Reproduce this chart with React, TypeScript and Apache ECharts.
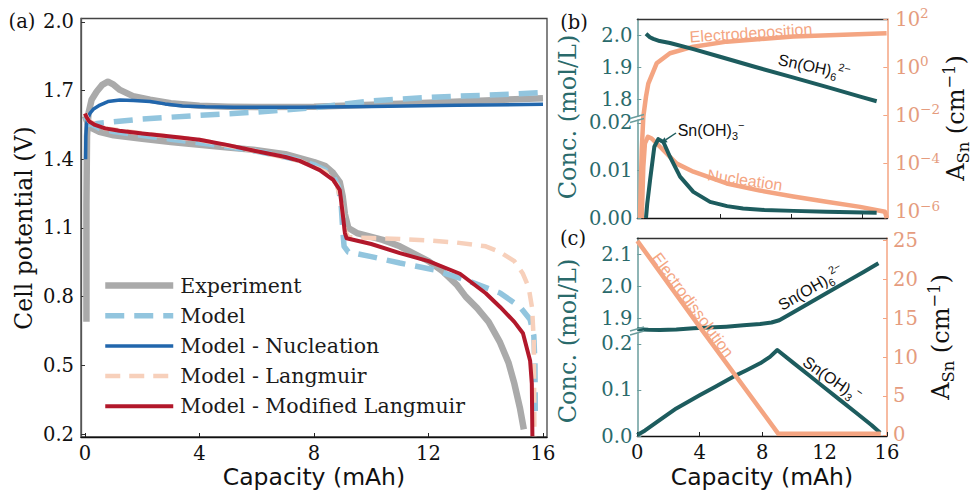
import React, { useEffect, useRef } from "react";
import * as echarts from "echarts";

// ---------------- tick values ----------------
const aXTicks = [0, 4, 8, 12, 16];
const aYTicks = [0.2, 0.5, 0.8, 1.1, 1.4, 1.7, 2.0];
const bXTicks = [4, 8, 12];
const bUpperTicks = [1.8, 1.9, 2.0];
const bLowerTicks = [0, 0.01, 0.02];
const bRightExps = [-6, -4, -2, 0, 2];
const cXTicks = [0, 4, 8, 12, 16];
const cUpperTicks = [1.9, 2.0, 2.1];
const cLowerTicks = [0, 0.1, 0.2];
const cRightTicks = [0, 5, 10, 15, 20, 25];

// ---------------- panel (a) : cell potential (V) vs capacity (mAh) ----------------
const expCharge = [
  [0.05, 0.69], [0.05, 1.2], [0.07, 1.5], [0.12, 1.6], [0.23, 1.66], [0.41, 1.696], [0.6, 1.725],
  [0.8, 1.739], [1.0, 1.726], [1.22, 1.703], [1.68, 1.676], [2.27, 1.66], [3, 1.645], [4, 1.634],
  [5, 1.63], [6, 1.628], [8, 1.63], [10, 1.638], [12, 1.647], [14, 1.657], [16, 1.667],
];
const expDischarge = [
  [0, 1.59], [0.1, 1.555], [0.25, 1.535], [0.5, 1.52], [1, 1.505], [2, 1.49], [3, 1.476], [4, 1.463],
  [5, 1.452], [6, 1.44], [7, 1.422], [7.5, 1.405], [8, 1.388], [8.4, 1.37], [8.67, 1.34], [8.9, 1.3],
  [9.0, 1.24], [9.08, 1.16], [9.2, 1.1], [9.5, 1.078], [10.4, 1.048], [11, 1.02], [12, 0.955],
  [12.5, 0.91], [13, 0.85], [13.3, 0.8], [13.7, 0.75], [14.1, 0.69], [14.5, 0.6], [14.8, 0.51],
  [15.0, 0.42], [15.2, 0.31], [15.33, 0.22],
];
const modelCharge = [
  [0, 1.55], [0.5, 1.558], [1.2, 1.566], [2, 1.576], [4, 1.592], [6, 1.606], [8, 1.625], [9, 1.64],
  [10, 1.655], [11, 1.663], [12, 1.67], [13, 1.676], [14, 1.68], [15, 1.685], [16, 1.692],
];
const modelDischarge = [
  [0, 1.585], [0.2, 1.555], [0.5, 1.535], [1, 1.521], [2.27, 1.5], [3, 1.488], [4, 1.472],
  [5, 1.455], [6, 1.435], [7, 1.41], [7.5, 1.395], [8, 1.376], [8.4, 1.352], [8.7, 1.32],
  [8.85, 1.28], [8.95, 1.2], [9.0, 1.1], [9.05, 1.02], [9.2, 0.995], [10, 0.975], [11, 0.947],
  [12.2, 0.917], [13.3, 0.873], [14.5, 0.816], [15.2, 0.755], [15.55, 0.7], [15.68, 0.63],
  [15.72, 0.5], [15.73, 0.3],
];
const nucleationCharge = [
  [0.02, 1.4], [0.03, 1.5], [0.05, 1.55], [0.1, 1.58], [0.17, 1.6], [0.3, 1.62], [0.52, 1.637],
  [0.8, 1.652], [1.22, 1.659], [1.7, 1.657], [2.27, 1.652], [2.8, 1.642], [3.4, 1.633], [4.2, 1.629],
  [5.2, 1.627], [7.5, 1.627], [10, 1.631], [13, 1.636], [16, 1.64],
];
const langmuirDischarge = [
  [0, 1.6], [0.15, 1.565], [0.7, 1.535], [2, 1.513], [4, 1.485], [6, 1.435], [7.5, 1.393],
  [8.4, 1.345], [8.8, 1.29], [8.97, 1.2], [9.08, 1.09], [9.2, 1.06], [10, 1.056], [11, 1.052],
  [12, 1.046], [13, 1.036], [14, 1.02], [14.5, 0.995], [15, 0.955], [15.3, 0.9], [15.5, 0.84],
  [15.62, 0.75], [15.68, 0.6], [15.69, 0.4], [15.7, 0.19],
];
const modLangmuirDischarge = [
  [0, 1.6], [0.05, 1.585], [0.15, 1.565], [0.35, 1.55], [0.7, 1.535], [1.2, 1.525], [2, 1.513],
  [3, 1.5], [4, 1.485], [5, 1.462], [6, 1.435], [7, 1.41], [7.5, 1.393], [8.2, 1.353], [8.67, 1.31],
  [8.9, 1.266], [9.0, 1.165], [9.08, 1.078], [9.14, 1.055], [10, 1.03], [11, 0.99], [12, 0.955],
  [13.1, 0.9], [14, 0.815], [14.5, 0.755], [15, 0.69], [15.3, 0.64], [15.55, 0.52], [15.61, 0.42],
  [15.62, 0.3], [15.63, 0.19],
];

// ---------------- panel (b) : charging ----------------
const bSn6 = [
  [-0.17, 2.006], [0.05, 1.995], [0.24, 1.99], [0.6, 1.983], [1.18, 1.977], [2.5, 1.958],
  [4, 1.934], [6, 1.902], [8, 1.871], [10, 1.84], [12, 1.808], [12.83, 1.795],
];
const bSn3 = [
  [-0.17, 0], [-0.1, 0.003], [0.06, 0.008], [0.3, 0.015], [0.52, 0.0166], [0.81, 0.016],
  [1.18, 0.0129], [1.75, 0.0087], [2.5, 0.0055], [3.44, 0.0034], [4.4, 0.0025], [5.3, 0.002],
  [6.5, 0.0017], [8.13, 0.0015], [10, 0.0013], [12.83, 0.0011],
];
const bElectrodeposition = [
  [-0.51, 5.5e-7], [-0.41, 3.6e-4], [-0.32, 8.9e-3], [-0.17, 0.06], [-0.04, 0.21], [0.43, 1.45],
  [1.18, 3.8], [2.5, 7.1], [4.38, 11.5], [8.13, 18.6], [13.39, 25.7],
];
const bNucleation = [
  [-0.41, 5.5e-7], [-0.32, 7.4e-5], [-0.23, 6.9e-4], [-0.06, 1.3e-3], [0.15, 1.1e-3], [0.62, 5.0e-4],
  [1.56, 1.0e-4], [2.5, 4.6e-5], [4.38, 1.5e-5], [6.25, 7.6e-6], [8.13, 4.3e-6], [10, 2.6e-6],
  [11.9, 1.6e-6], [13.3, 1.0e-6], [13.4, 5.5e-7],
];

// ---------------- panel (c) : discharging ----------------
const cSn6 = [
  [0, 1.865], [0.7, 1.863], [1.45, 1.8625], [2.5, 1.864], [3.6, 1.868], [4.6, 1.87], [5.7, 1.873],
  [6.8, 1.877], [7.87, 1.881], [8.6, 1.886], [9.1, 1.893], [10, 1.918], [11, 1.946], [12.14, 1.978],
  [13.5, 2.016], [14.5, 2.044], [15.45, 2.071],
];
const cSn3 = [
  [0, 0.002], [0.5, 0.012], [1.45, 0.035], [2.5, 0.06], [4.02, 0.089], [5, 0.107], [6.15, 0.129],
  [7, 0.143], [7.87, 0.158], [8.5, 0.172], [8.97, 0.187], [10, 0.159], [11, 0.132], [12, 0.105],
  [13, 0.078], [14, 0.051], [15, 0.024], [15.56, 0.007],
];
const cElectrodissolution = [[0, 24.9], [4.02, 13.8], [9.04, 0.15], [15.6, 0.15]];

// ---------------- styling ----------------
const SERIF = "DejaVu Serif";
const SANS = "DejaVu Sans";
const ARIAL = "Liberation Sans";
const TEAL = "#1d5c5e";
const TEAL_TXT = "#2a6a6b";
const TEAL_AX = "#6a9c9c";
const SALMON = "#f4a582";
const SALMON_TXT = "#e59c7e";
const GRAY = "#aaaaaa";
const LBLUE = "#92c5de";
const DBLUE = "#2166ac";
const PEACH = "#f7d0bb";
const RED = "#b2182b";

const bXmin = -0.66, bXmax = 13.43;

function line(name: string, data: any[], xi: number, yi: number, color: string, width: number, type: any = "solid", z = 2) {
  return {
    type: "line", name, data, xAxisIndex: xi, yAxisIndex: yi, symbol: "none", showSymbol: false,
    smooth: false, clip: false, silent: true, z,
    lineStyle: { color, width, type, cap: "butt", join: "round" },
    itemStyle: { color },
    emphasis: { disabled: true },
  };
}

function valAxis(extra: any) {
  const al = extra.axisLine || {};
  return { type: "value", splitLine: { show: false }, ...extra, axisLine: { ...al, onZero: false } };
}

function buildOption(): any {
  const tickLbl = (vals: number[], fmt: (v: number) => string, color: string, margin = 6) => ({
    customValues: vals, formatter: fmt, color, fontFamily: SERIF, fontSize: 19.5, margin,
  });
  const ticks = (vals: number[], color: string) => ({
    show: true, customValues: vals, inside: true, length: 4, lineStyle: { color, width: 1 },
  });
  const hidden = (gi: number, min: number, max: number) =>
    valAxis({ gridIndex: gi, min, max, show: false });

  const subRich = (color: string, size: number, family: string) => ({
    m: { fontSize: size, fontFamily: family, color, lineHeight: size + 6 },
    s: { fontSize: size * 0.68, fontFamily: family, color, lineHeight: size * 0.68, verticalAlign: "bottom" },
    p: { fontSize: size * 0.68, fontFamily: family, color, lineHeight: size * 0.68, verticalAlign: "top" },
  });

  const txt = (x: number, y: number, text: string, opts: any = {}) => ({
    type: "text", x, y, rotation: opts.rotation || 0, silent: true, z: 100,
    style: {
      text, fontSize: opts.size || 19.5, fontFamily: opts.family || SERIF, fill: opts.color || "#111",
      align: "center", verticalAlign: "middle", rich: opts.rich,
    },
  });
  const deg = (d: number) => (d * Math.PI) / 180;

  return {
    animation: false,
    backgroundColor: "#ffffff",
    grid: [
      { left: 81, top: 18.5, width: 466, height: 418.5, show: true, borderColor: "#444", borderWidth: 1.3, backgroundColor: "transparent" },
      { left: 637.3, top: 19, width: 250, height: 199 },
      { left: 637.3, top: 19, width: 250, height: 97 },
      { left: 637.3, top: 120, width: 250, height: 98 },
      { left: 637.3, top: 238, width: 249.7, height: 198 },
      { left: 637.3, top: 238, width: 249.7, height: 92 },
      { left: 637.3, top: 333, width: 249.7, height: 103 },
    ],
    xAxis: [
      valAxis({
        gridIndex: 0, min: -0.14, max: 16.14,
        axisLine: { lineStyle: { color: "#111", width: 1.3 } },
        axisTick: ticks(aXTicks, "#222"),
        axisLabel: tickLbl(aXTicks, (v) => String(v), "#111"),
      }),
      valAxis({
        gridIndex: 1, min: bXmin, max: bXmax,
        axisLine: { lineStyle: { color: "#111", width: 1.3 } },
        axisTick: ticks(bXTicks, "#222"),
        axisLabel: { show: false },
      }),
      valAxis({
        gridIndex: 1, position: "top", min: bXmin, max: bXmax,
        axisLine: { lineStyle: { color: "#333", width: 1.3 } },
        axisTick: { show: false }, axisLabel: { show: false },
      }),
      hidden(2, bXmin, bXmax),
      hidden(3, bXmin, bXmax),
      valAxis({
        gridIndex: 4, min: 0, max: 16,
        axisLine: { lineStyle: { color: "#111", width: 1.3 } },
        axisTick: ticks(cXTicks, "#222"),
        axisLabel: tickLbl(cXTicks, (v) => String(v), "#111"),
      }),
      valAxis({
        gridIndex: 4, position: "top", min: 0, max: 16,
        axisLine: { lineStyle: { color: "#333", width: 1.3 } },
        axisTick: { show: false }, axisLabel: { show: false },
      }),
      hidden(5, 0, 16),
      hidden(6, 0, 16),
    ],
    yAxis: [
      valAxis({
        gridIndex: 0, min: 0.187, max: 2.015,
        axisLine: { show: true, lineStyle: { color: "#555", width: 1.3 } },
        axisTick: ticks(aYTicks, "#333"),
        axisLabel: tickLbl(aYTicks, (v) => v.toFixed(1), "#111", 7),
      }),
      valAxis({
        gridIndex: 1, position: "right", min: -6.257, max: 2,
        axisLine: { show: true, lineStyle: { color: SALMON, width: 1.5 } },
        axisTick: ticks(bRightExps, SALMON),
        axisLabel: {
          customValues: bRightExps, margin: 8,
          formatter: (v: number) => `{b|10}{e|${v < 0 ? "\u2212" + Math.abs(v) : v}}`,
          rich: {
            b: { fontFamily: SERIF, fontSize: 19.5, color: SALMON_TXT, lineHeight: 26 },
            e: { fontFamily: SERIF, fontSize: 13.5, color: SALMON_TXT, lineHeight: 14, verticalAlign: "top" },
          },
        },
      }),
      valAxis({
        gridIndex: 2, min: 1.749, max: 2.052,
        axisLine: { show: true, lineStyle: { color: TEAL_AX, width: 1.5 } },
        axisTick: ticks(bUpperTicks, TEAL_AX),
        axisLabel: tickLbl(bUpperTicks, (v) => v.toFixed(1), TEAL_TXT, 5),
      }),
      valAxis({
        gridIndex: 3, min: 0, max: 0.02063,
        axisLine: { show: true, lineStyle: { color: TEAL_AX, width: 1.5 } },
        axisTick: ticks(bLowerTicks, TEAL_AX),
        axisLabel: tickLbl(bLowerTicks, (v) => v.toFixed(2), TEAL_TXT, 5),
      }),
      valAxis({
        gridIndex: 4, position: "right", min: -0.13, max: 25.26,
        axisLine: { show: true, lineStyle: { color: SALMON, width: 1.5 } },
        axisTick: ticks(cRightTicks, SALMON),
        axisLabel: tickLbl(cRightTicks, (v) => String(v), SALMON_TXT, 6),
      }),
      valAxis({
        gridIndex: 5, min: 1.8625, max: 2.15,
        axisLine: { show: true, lineStyle: { color: TEAL_AX, width: 1.5 } },
        axisTick: ticks(cUpperTicks, TEAL_AX),
        axisLabel: tickLbl(cUpperTicks, (v) => v.toFixed(1), TEAL_TXT, 5),
      }),
      valAxis({
        gridIndex: 6, min: 0, max: 0.2239,
        axisLine: { show: true, lineStyle: { color: TEAL_AX, width: 1.5 } },
        axisTick: ticks(cLowerTicks, TEAL_AX),
        axisLabel: tickLbl(cLowerTicks, (v) => v.toFixed(1), TEAL_TXT, 5),
      }),
    ],
    legend: {
      orient: "vertical", left: 97, top: 270, itemWidth: 68, itemHeight: 20, itemGap: 9.2,
      selectedMode: false,
      lineStyle: { width: "inherit" },
      itemStyle: { opacity: 0, borderWidth: 0 },
      textStyle: { fontFamily: SERIF, fontSize: 20.5, color: "#1a1a1a", lineHeight: 20, padding: [0, 0, 0, 2] },
      data: ["Experiment", "Model", "Model - Nucleation", "Model - Langmuir", "Model - Modified Langmuir"],
    },
    series: [
      line("Experiment", expCharge, 0, 0, GRAY, 6.5, "solid", 2),
      line("Experiment", expDischarge, 0, 0, GRAY, 6.5, "solid", 2),
      line("Model", modelCharge, 0, 0, LBLUE, 5.5, [19, 10], 3),
      line("Model", modelDischarge, 0, 0, LBLUE, 5.5, [19, 10], 3),
      line("Model - Nucleation", nucleationCharge, 0, 0, DBLUE, 3.5, "solid", 4),
      line("Model - Langmuir", langmuirDischarge, 0, 0, PEACH, 4.5, [15, 9], 5),
      line("Model - Modified Langmuir", modLangmuirDischarge, 0, 0, RED, 4, "solid", 6),

      line("Electrodeposition", bElectrodeposition.map(([x, a]) => [x, Math.log10(a)]), 1, 1, SALMON, 4.5, "solid", 3),
      line("Nucleation", bNucleation.map(([x, a]) => [x, Math.log10(a)]), 1, 1, SALMON, 4.5, "solid", 3),
      line("Sn(OH)6", bSn6, 3, 2, TEAL, 4, "solid", 4),
      line("Sn(OH)3", bSn3, 4, 3, TEAL, 4, "solid", 4),

      line("Sn(OH)6 c", cSn6, 7, 5, TEAL, 4, "solid", 3),
      line("Sn(OH)3 c", cSn3, 8, 6, TEAL, 4, "solid", 3),
      line("Electrodissolution", cElectrodissolution, 5, 4, SALMON, 4.5, "solid", 4),
    ],
    graphic: [
      // panel letters
      txt(22, 21, "(a)", { size: 19.5 }),
      txt(574, 22, "(b)", { size: 19.5 }),
      txt(573, 238, "(c)", { size: 19.5 }),
      // axis names
      txt(24, 228, "Cell potential (V)", { rotation: Math.PI / 2, size: 23.5 }),
      txt(314, 477, "Capacity (mAh)", { family: SANS, size: 23.5 }),
      txt(762, 477, "Capacity (mAh)", { family: SANS, size: 23.5 }),
      txt(568, 117, "Conc. (mol/L)", { rotation: Math.PI / 2, size: 24, color: TEAL_TXT }),
      txt(568, 341, "Conc. (mol/L)", { rotation: Math.PI / 2, size: 24, color: TEAL_TXT }),
      txt(956, 118, "{m|A}{s|Sn}{m| (cm}{p|\u22121}{m|)}", { rotation: Math.PI / 2, rich: subRich(SALMON_TXT, 24, SERIF) }),
      txt(941, 337, "{m|A}{s|Sn}{m| (cm}{p|\u22121}{m|)}", { rotation: Math.PI / 2, rich: subRich(SALMON_TXT, 24, SERIF) }),
      // annotations (b)
      txt(751, 33, "Electrodeposition", { family: ARIAL, size: 16, color: SALMON, rotation: deg(3.8) }),
      txt(745, 180, "Nucleation", { family: ARIAL, size: 16, color: SALMON, rotation: deg(-8) }),
      txt(814, 67, "{m|Sn(OH)}{s|6}{p|2\u2212}", { rotation: deg(-12), rich: subRich(TEAL, 16, ARIAL) }),
      txt(711, 130, "{m|Sn(OH)}{s|3}{p|\u2212}", { rich: subRich(TEAL, 16, ARIAL) }),
      // annotations (c)
      txt(693, 305, "Electrodissolution", { family: ARIAL, size: 16, color: SALMON, rotation: deg(-53.5) }),
      txt(811, 288, "{m|Sn(OH)}{s|6}{p|2\u2212}", { rotation: deg(30), rich: subRich(TEAL, 16, ARIAL) }),
      txt(832, 379, "{m|Sn(OH)}{s|3}{p|\u2212}", { rotation: deg(-35), rich: subRich(TEAL, 16, ARIAL) }),
      // arrow in (b)
      { type: "line", silent: true, z: 100, shape: { x1: 676, y1: 133, x2: 666, y2: 139.7 }, style: { stroke: TEAL, lineWidth: 1.5 } },
      { type: "polygon", silent: true, z: 100, shape: { points: [[661, 143], [667.6, 142.2], [664.4, 137.2]] }, style: { fill: TEAL } },
      // axis break marks
      { type: "line", silent: true, z: 100, shape: { x1: 630, y1: 118.5, x2: 644, y2: 114.5 }, style: { stroke: TEAL_AX, lineWidth: 1.5 } },
      { type: "line", silent: true, z: 100, shape: { x1: 630, y1: 122.5, x2: 644, y2: 118.5 }, style: { stroke: TEAL_AX, lineWidth: 1.5 } },
      { type: "line", silent: true, z: 100, shape: { x1: 630, y1: 331, x2: 644, y2: 327 }, style: { stroke: TEAL_AX, lineWidth: 1.5 } },
      { type: "line", silent: true, z: 100, shape: { x1: 630, y1: 335, x2: 644, y2: 331 }, style: { stroke: TEAL_AX, lineWidth: 1.5 } },
    ],
  };
}

export default function App() {
  const ref = useRef<HTMLDivElement>(null);
  useEffect(() => {
    const chart = echarts.init(ref.current!, null, { renderer: "svg" });
    chart.setOption(buildOption());
    return () => chart.dispose();
  }, []);
  return (
    <div
      ref={ref}
      style={{ position: "fixed", left: 0, top: 0, width: 971, height: 491, background: "#fff" }}
    />
  );
}
